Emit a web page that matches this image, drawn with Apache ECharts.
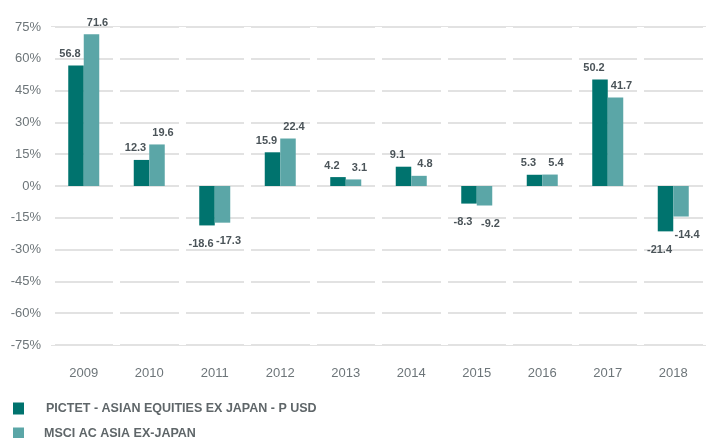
<!DOCTYPE html>
<html lang="en">
<head>
    <meta charset="UTF-8">
    <title>Annual Performance</title>
    <script type="text/javascript" src="https://cdn.jsdelivr.net/npm/echarts@6/dist/echarts.min.js"></script>
    <style>
        html, body { margin: 0; padding: 0; background: #fff; }
        #chart-container { width: 707px; height: 438px; }
    </style>
</head>
<body>
    <div id="chart-container"></div>
    <script>
        // data
        const years = ['2009', '2010', '2011', '2012', '2013', '2014', '2015', '2016', '2017', '2018'];
        const fundName = 'PICTET - ASIAN EQUITIES EX JAPAN - P USD';
        const indexName = 'MSCI AC ASIA EX-JAPAN';
        const fundValues = [56.8, 12.3, -18.6, 15.9, 4.2, 9.1, -8.3, 5.3, 50.2, -21.4];
        const indexValues = [71.6, 19.6, -17.3, 22.4, 3.1, 4.8, -9.2, 5.4, 41.7, -14.4];

        const darkTeal = '#00736e';
        const lightTeal = '#5ba6a7';

        // label above positive bars, below negative ones, nudged sideways
        function withLabels(values, dx) {
            return values.map(v => ({
                value: v,
                label: {
                    position: v < 0 ? 'bottom' : 'top',
                    distance: v < 0 ? 13 : 6,
                    offset: [dx, 0]
                }
            }));
        }

        const labelStyle = {
            show: true,
            color: '#4b5459',
            fontSize: 11,
            fontWeight: 'bold',
            fontFamily: 'Liberation Sans',
            formatter: p => p.value.toFixed(1)
        };

        function legendAt(name, top, pad) {
            return {
                left: 8,
                top: top,
                itemWidth: 11,
                itemHeight: 12,
                icon: 'rect',
                data: [name],
                textStyle: {
                    color: '#5f6669',
                    fontSize: 12.5,
                    fontWeight: 'bold',
                    fontFamily: 'Liberation Sans',
                    padding: [0, 0, 0, pad]
                }
            };
        }

        const myChart = echarts.init(document.getElementById('chart-container'));
        const option = {
            animation: false,
            grid: { left: 51, right: 1, top: 27, bottom: 93 },
            legend: [
                legendAt(fundName, 397, 17),
                legendAt(indexName, 422, 15)
            ],
            xAxis: [
                {
                    type: 'category',
                    data: years,
                    axisLine: { show: false },
                    axisTick: { show: false },
                    axisLabel: {
                        margin: 22,
                        color: '#6d7579',
                        fontSize: 13,
                        fontFamily: 'Liberation Sans'
                    }
                },
                {
                    // white separators that cut the gridlines at each category boundary
                    type: 'category',
                    data: years,
                    position: 'bottom',
                    z: 1,
                    axisLine: { show: false },
                    axisTick: { show: false },
                    axisLabel: { show: false },
                    splitLine: { show: true, lineStyle: { color: '#ffffff', width: 7 } }
                }
            ],
            yAxis: {
                type: 'value',
                min: -75,
                max: 75,
                interval: 15,
                axisLine: { show: false },
                axisTick: { show: false },
                axisLabel: {
                    margin: 10,
                    color: '#6d7579',
                    fontSize: 13,
                    fontFamily: 'Liberation Sans',
                    formatter: '{value}%'
                },
                splitLine: { lineStyle: { color: '#d9d9d9', width: 1.5 } }
            },
            series: [
                {
                    name: fundName,
                    type: 'bar',
                    xAxisIndex: 0,
                    barWidth: 15.5,
                    barGap: 0,
                    itemStyle: { color: darkTeal },
                    label: labelStyle,
                    data: withLabels(fundValues, -6)
                },
                {
                    name: indexName,
                    type: 'bar',
                    xAxisIndex: 0,
                    barWidth: 15.5,
                    barGap: 0,
                    itemStyle: { color: lightTeal },
                    label: labelStyle,
                    data: withLabels(indexValues, 6)
                }
            ]
        };
        myChart.setOption(option);
    </script>
</body>
</html>
